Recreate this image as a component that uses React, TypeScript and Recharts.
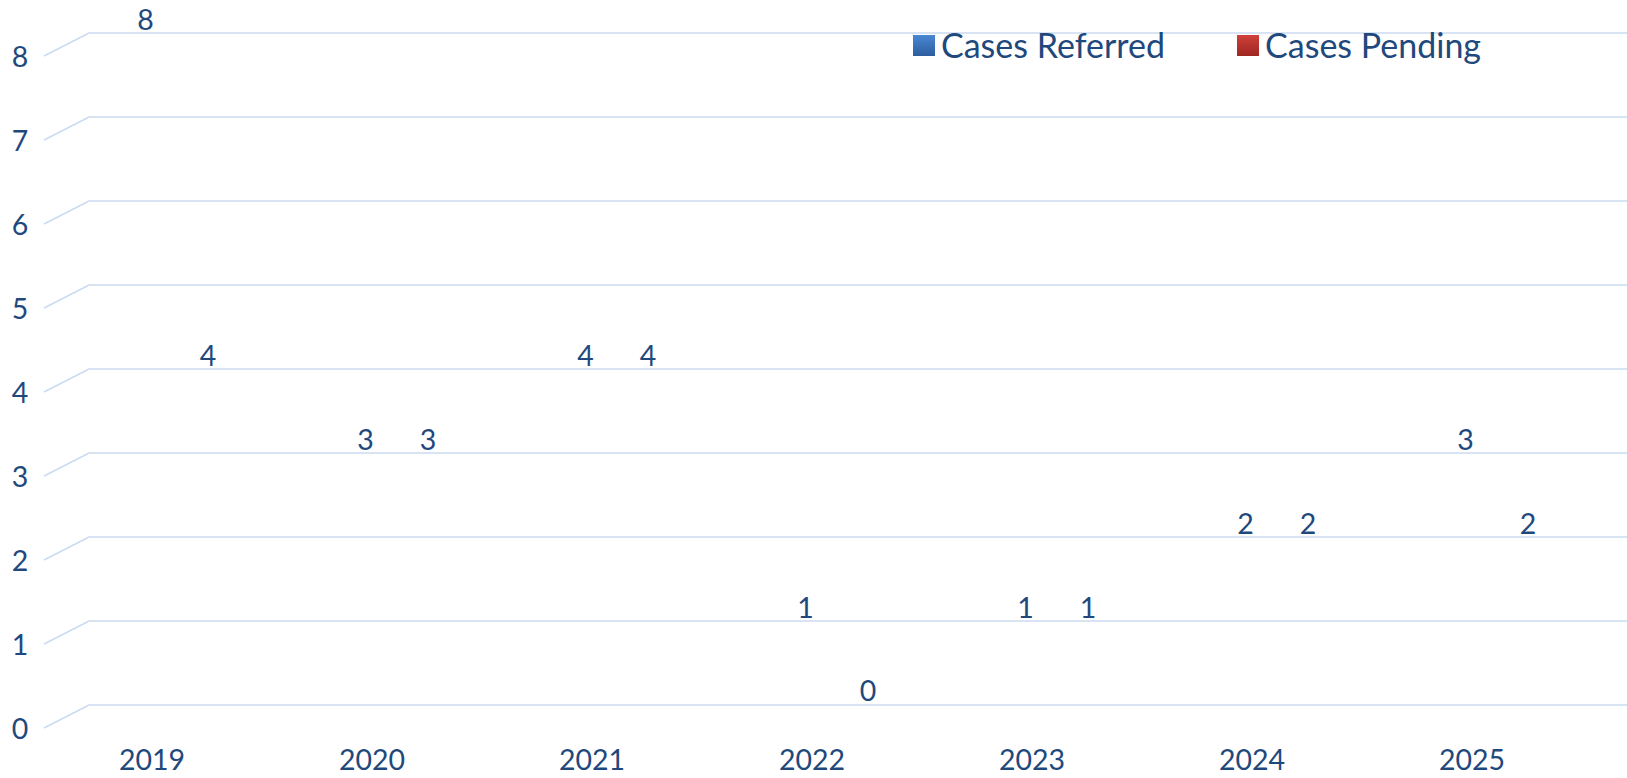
import React from 'react';
import { BarChart, Bar, XAxis, YAxis, CartesianGrid, Legend, LabelList } from 'recharts';

const categories = ['2019', '2020', '2021', '2022', '2023', '2024', '2025'];
const casesReferred = [8, 3, 4, 1, 1, 2, 3];
const casesPending = [4, 3, 4, 0, 1, 2, 2];
const yTicks = [0, 1, 2, 3, 4, 5, 6, 7, 8];

const seriesOrder = ['referred', 'pending'];
const seriesNames = { referred: 'Cases Referred', pending: 'Cases Pending' };
const seriesGradients: Record<string, string> = {
  referred: 'linear-gradient(#4A88D4, #2C5D9E)',
  pending: 'linear-gradient(#D0413A, #9E2622)',
};

const data = categories.map((year, i) => ({
  year,
  referred: casesReferred[i],
  pending: casesPending[i],
}));

const TEXT = '#1F497D';
const GRID = '#CCDAF0';
const FONT = 'Lato, "Open Sans", sans-serif';
const FS = 28.5;
const DX3D = 45;
const DY3D = 23;

const GridLine = (props: any) => {
  const { x1, y1, x2 } = props;
  return (
    <path
      key={`g-${y1}`}
      d={`M${x1},${y1 + DY3D} L${x1 + DX3D},${y1} L${x2 + DX3D + 5},${y1}`}
      stroke={GRID}
      strokeWidth={1.6}
      fill="none"
    />
  );
};

const YTick = (props: any) => {
  const { y, payload } = props;
  return (
    <text x={20} y={y + DY3D} textAnchor="middle" dominantBaseline="central" fill={TEXT} fontSize={FS} fontFamily={FONT}>
      {payload.value}
    </text>
  );
};

const XTick = (props: any) => {
  const { x, payload } = props;
  return (
    <text x={x - 2} y={759} textAnchor="middle" dominantBaseline="central" fill={TEXT} fontSize={FS} fontFamily={FONT}>
      {payload.value}
    </text>
  );
};

const makeLabel = (dx: number) => (props: any) => {
  const { x, y, width, height, value } = props;
  const top = Math.min(y, y + (height || 0));
  return (
    <text x={x + width / 2 + dx} y={top - 14} textAnchor="middle" dominantBaseline="central" fill={TEXT} fontSize={FS} fontFamily={FONT}>
      {value}
    </text>
  );
};

const LegendContent = (props: any) => {
  const payload = [...(props.payload || [])].sort(
    (a: any, b: any) => seriesOrder.indexOf(a.dataKey) - seriesOrder.indexOf(b.dataKey)
  );
  return (
    <div style={{ display: 'flex', alignItems: 'center', fontFamily: FONT, fontSize: 34, color: TEXT }}>
      {payload.map((p: any, i: number) => (
        <div key={i} style={{ display: 'flex', alignItems: 'center', marginRight: i === 0 ? 72 : 0 }}>
          <div style={{ width: 22, height: 21, background: seriesGradients[p.dataKey], marginRight: 6 }} />
          <span style={{ whiteSpace: 'nowrap', lineHeight: '36px' }}>{p.value}</span>
        </div>
      ))}
    </div>
  );
};

export default function App() {
  return (
    <div style={{ position: 'absolute', left: 0, top: 0, width: 1627, height: 778, background: '#fff' }}>
      <BarChart
        width={1627}
        height={778}
        data={data}
        margin={{ top: 33, right: 43, bottom: 0, left: 0 }}
        barGap={0}
        barSize={40}
      >
        <CartesianGrid vertical={false} horizontal={GridLine} />
        <XAxis dataKey="year" height={73} axisLine={false} tickLine={false} tick={XTick} interval={0} />
        <YAxis width={44} domain={[0, 8]} ticks={yTicks} axisLine={false} tickLine={false} tick={YTick} interval={0} />
        <Legend
          layout="horizontal"
          verticalAlign="middle"
          align="center"
          content={LegendContent}
          wrapperStyle={{ position: 'absolute', left: 913, top: 27, width: 700, height: 38 }}
        />
        <Bar dataKey="referred" name={seriesNames.referred} fill="transparent" minPointSize={1} isAnimationActive={false}>
          <LabelList dataKey="referred" content={makeLabel(11.5)} />
        </Bar>
        <Bar dataKey="pending" name={seriesNames.pending} fill="transparent" minPointSize={1} isAnimationActive={false}>
          <LabelList dataKey="pending" content={makeLabel(34)} />
        </Bar>
      </BarChart>
    </div>
  );
}
